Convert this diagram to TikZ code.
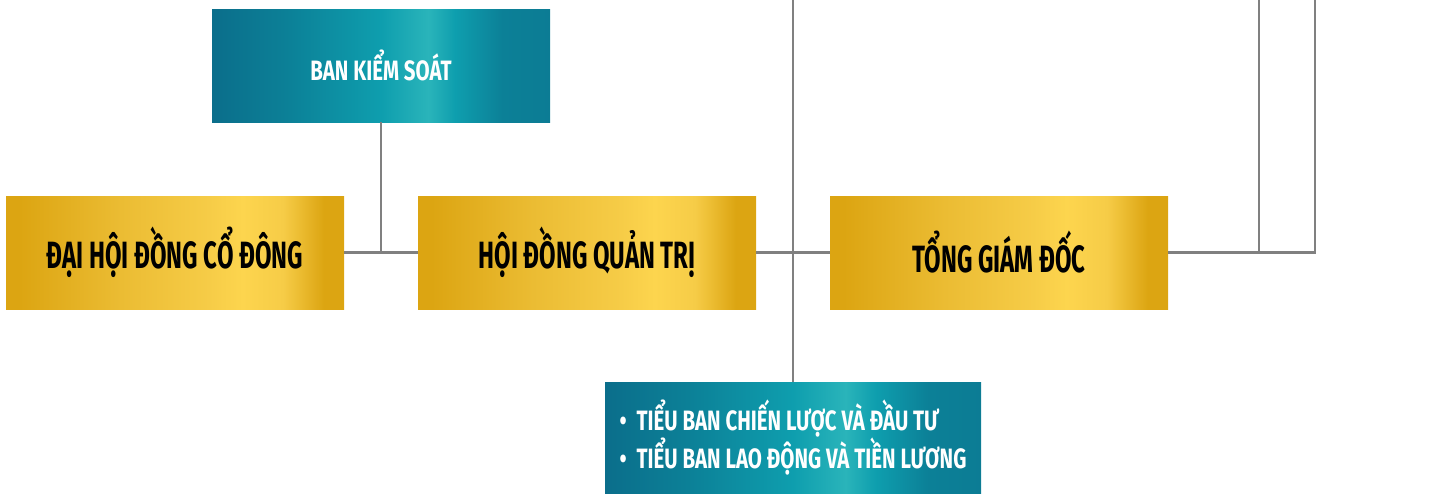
\documentclass[tikz,border=0pt]{standalone}
\usepackage{fontspec}
\newfontfamily\goldfont{Fira Sans}[FakeStretch=0.63]
\newfontfamily\tealfont{Fira Sans}[FakeStretch=0.73]
\definecolor{lineg}{HTML}{808080}
\definecolor{gA}{HTML}{DCA512}
\definecolor{gB}{HTML}{EBBC33}
\definecolor{gC}{HTML}{F6CC47}
\definecolor{gD}{HTML}{FDD54E}
\definecolor{tA}{HTML}{0B6E8B}
\definecolor{tB}{HTML}{0C8097}
\definecolor{tC}{HTML}{0E9EAE}
\definecolor{tD}{HTML}{2AB4BA}
\pgfdeclarehorizontalshading{goldshade}{100bp}{color(0bp)=(gA); color(27bp)=(gA); color(42bp)=(gB); color(55bp)=(gC); color(60bp)=(gD); color(66bp)=(gC); color(72bp)=(gA); color(100bp)=(gA)}
\pgfdeclarehorizontalshading{tealshade}{100bp}{color(0bp)=(tA); color(25bp)=(tA); color(36bp)=(tB); color(50bp)=(tC); color(57bp)=(tD); color(61bp)=(tC); color(68bp)=(tB); color(100bp)=(tA)}
\begin{document}
\begin{tikzpicture}[x=1pt,y=-1pt,
  goldbox/.style={shading=goldshade, minimum width=338pt, minimum height=113pt, inner sep=0pt,
    font=\goldfont\bfseries\fontsize{38}{42}\selectfont, text=black},
  tealbox/.style={shading=tealshade, minimum width=338pt, minimum height=113pt, inner sep=0pt,
    font=\tealfont\bfseries\fontsize{28}{32}\selectfont, text=white},
  conn/.style={draw=lineg, line width=2.5pt}]
\useasboundingbox (0,0) rectangle (1440,493);
\node[tealbox] (bks) at (381,65.5) {BAN KIỂM SOÁT};
\node[goldbox] (dh) at (175,252.5) {ĐẠI HỘI ĐỒNG CỔ ĐÔNG};
\node[goldbox] (hd) at (587,252.5) {HỘI ĐỒNG QUẢN TRỊ};
\node[goldbox] (tgd) at (999,252.5) {TỔNG GIÁM ĐỐC};
\node[tealbox, minimum width=376pt, minimum height=111pt, align=left] (tb) at (793,437.5)
  {•\hspace{10pt}TIỂU BAN CHIẾN LƯỢC VÀ ĐẦU TƯ\\ •\hspace{10pt}TIỂU BAN LAO ĐỘNG VÀ TIỀN LƯƠNG};
\coordinate (top1) at (793,0);
\coordinate (top2) at (1259,0);
\coordinate (top3) at (1315,0);
\draw[conn] (dh.east) -- (hd.west);
\draw[conn] (bks.south) -- (bks.south |- dh.east);
\draw[conn] (hd.east) -- (tgd.west);
\draw[conn] (top1) -- (tb.north);
\draw[conn] (tgd.east) -| (top3);
\draw[conn] (top2) -- (top2 |- tgd.east);
\end{tikzpicture}
\end{document}
